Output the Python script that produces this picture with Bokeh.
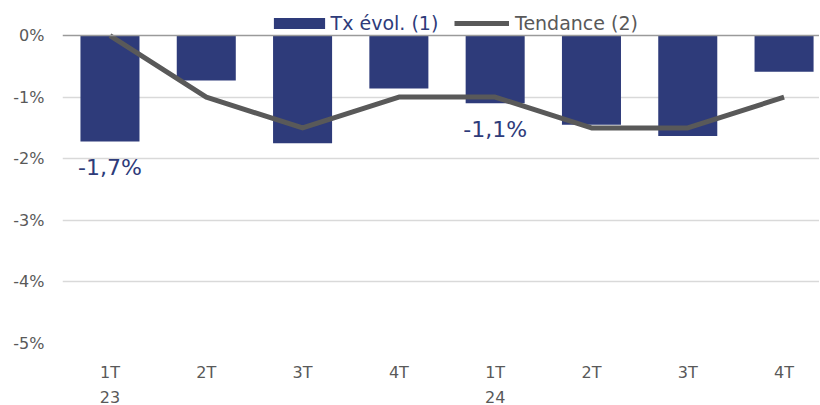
from bokeh.plotting import figure
from bokeh.models import (ColumnDataSource, FixedTicker, LinearAxis, Range1d, Legend,
                          LegendItem, Span, PrintfTickFormatter, Grid)
from bokeh.core.properties import value
from bokeh.embed import file_html
from bokeh.resources import INLINE

# ---- data ----
quarters = ["1T", "2T", "3T", "4T", "1T", "2T", "3T", "4T"]
years = ["23", "", "", "", "24", "", "", ""]
tx_evol = [-1.72, -0.73, -1.75, -0.86, -1.10, -1.45, -1.63, -0.59]
tendance = [0, -1, -1.5, -1, -1, -1.5, -1.5, -1]
label_idx = [0, 4]
y_ticks = [0, -1, -2, -3, -4, -5]

NAVY = "#2E3B7A"
GREY = "#595959"
FONT = "DejaVu Sans"

xs = list(range(len(quarters)))
src = ColumnDataSource(dict(x=xs, tx=tx_evol, tend=tendance))
lab_src = ColumnDataSource(dict(
    x=[xs[i] for i in label_idx],
    y=[tx_evol[i] for i in label_idx],
    t=[f"{tx_evol[i]:.1f}".replace(".", ",") + "%" for i in label_idx],
))

p = figure(frame_width=757, frame_height=336,
           x_range=Range1d(-0.493, 7.368), y_range=Range1d(-5, 0.455),
           output_backend="svg", toolbar_location=None,
           min_border_left=62, min_border_right=0, min_border_top=7, min_border_bottom=61,
           x_axis_type=None, y_axis_type=None)
p.outline_line_color = None
p.background_fill_color = "white"

# y axis
yax = LinearAxis(ticker=FixedTicker(ticks=y_ticks), formatter=PrintfTickFormatter(format="%d%%"))
yax.axis_line_color = None
yax.major_tick_out = 0
yax.major_tick_in = 0
yax.minor_tick_line_color = None
yax.major_label_standoff = 18
yax.major_label_text_font = FONT
yax.major_label_text_font_size = "16px"
yax.major_label_text_color = GREY
p.add_layout(yax, "left")

# x axes (quarter, year)
for labels, standoff in ((quarters, 19), (years, 6)):
    ticks = [i for i, l in enumerate(labels) if l]
    ax = LinearAxis(ticker=FixedTicker(ticks=ticks),
                    major_label_overrides={i: labels[i] for i in ticks})
    ax.axis_line_color = None
    ax.major_tick_out = 0
    ax.major_tick_in = 0
    ax.minor_tick_line_color = None
    ax.major_label_standoff = standoff
    ax.major_label_text_font = FONT
    ax.major_label_text_font_size = "16px"
    ax.major_label_text_color = GREY
    p.add_layout(ax, "below")

p.xgrid.visible = False
g = Grid(dimension=1, ticker=FixedTicker(ticks=y_ticks[1:]),
         grid_line_color="#D9D9D9", grid_line_width=1.5)
p.add_layout(g)

bars = p.vbar(x="x", top=0, bottom="tx", width=0.613, source=src,
              fill_color=NAVY, line_color=None)
p.add_layout(Span(location=0, dimension="width", line_color="#9A9A9A", line_width=1.5))
line = p.line(x="x", y="tend", source=src, line_color=GREY, line_width=5, line_join="round")

p.text(x="x", y="y", text="t", source=lab_src, text_align="center", text_baseline="top",
       y_offset=14, text_font=value(FONT), text_font_size="22px", text_color=NAVY)

leg1 = Legend(items=[LegendItem(label="Tx évol. (1)", renderers=[bars])],
              location=(204.6, 309), glyph_width=64, glyph_height=14, label_standoff=0,
              padding=0, margin=0, border_line_color=None, background_fill_alpha=0,
              label_text_font=FONT, label_text_font_size="19px", label_text_color=NAVY)
leg2 = Legend(items=[LegendItem(label="Tendance (2)", renderers=[line])],
              location=(392, 309), glyph_width=55, glyph_height=14, label_standoff=6,
              padding=0, margin=0, border_line_color=None, background_fill_alpha=0,
              label_text_font=FONT, label_text_font_size="19px", label_text_color=GREY)
p.add_layout(leg1)
p.add_layout(leg2)

open("out.html", "w").write(file_html(p, INLINE))
